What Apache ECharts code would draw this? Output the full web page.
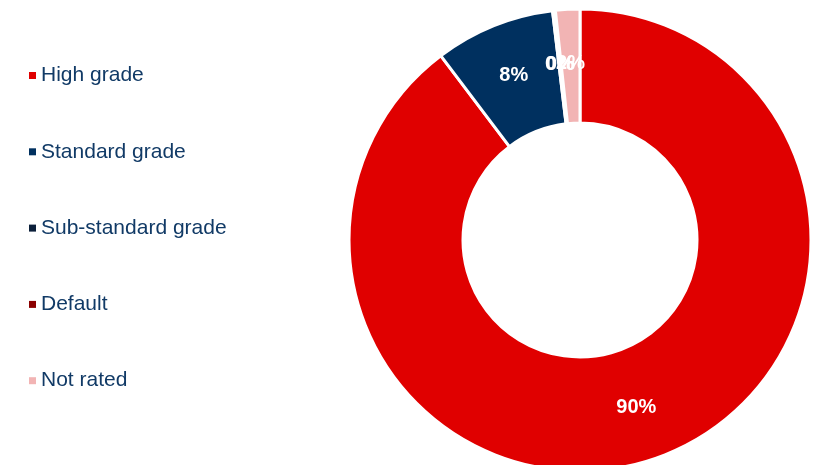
<!DOCTYPE html>
<html>
<head>
<meta charset="utf-8">
<script src="https://cdn.jsdelivr.net/npm/echarts@6/dist/echarts.min.js"></script>
<style>
  html, body { margin: 0; padding: 0; background: #ffffff; }
  #chart { width: 816px; height: 465px; }
</style>
</head>
<body>
<div id="chart"></div>
<script>
// Credit quality breakdown (share of portfolio, %)
const categories = ['High grade', 'Standard grade', 'Sub-standard grade', 'Default', 'Not rated'];
const shares = [89.7, 8.4, 0.1, 0.1, 1.7];
const colors = ['#e00000', '#00305f', '#0b1f3a', '#8b0000', '#f2b4b4'];

const chart = echarts.init(document.getElementById('chart'), null, { renderer: 'canvas' });

chart.setOption({
  animation: false,
  color: colors,
  legend: {
    orient: 'vertical',
    left: 24,
    top: 60,
    itemWidth: 7,
    itemHeight: 7,
    itemGap: 55.3,
    icon: 'rect',
    itemStyle: { borderWidth: 0 },
    data: categories,
    textStyle: {
      fontFamily: 'Liberation Sans, Arial, sans-serif',
      fontSize: 21,
      lineHeight: 21,
      color: '#113a66'
    }
  },
  series: [{
    type: 'pie',
    center: [580, 240],
    radius: [117, 231],
    startAngle: 90,
    clockwise: true,
    avoidLabelOverlap: false,
    minShowLabelAngle: 0,
    labelLayout: { hideOverlap: false },
    itemStyle: { borderColor: '#ffffff', borderWidth: 3 },
    label: {
      show: true,
      position: 'inside',
      overflow: 'none',
      color: '#ffffff',
      fontFamily: 'Liberation Sans, Arial, sans-serif',
      fontWeight: 'bold',
      fontSize: 20,
      formatter: p => Math.round(p.percent) + '%'
    },
    labelLine: { show: false },
    emphasis: { disabled: true },
    data: categories.map((name, i) => ({ name, value: shares[i] }))
  }]
});
</script>
</body>
</html>
